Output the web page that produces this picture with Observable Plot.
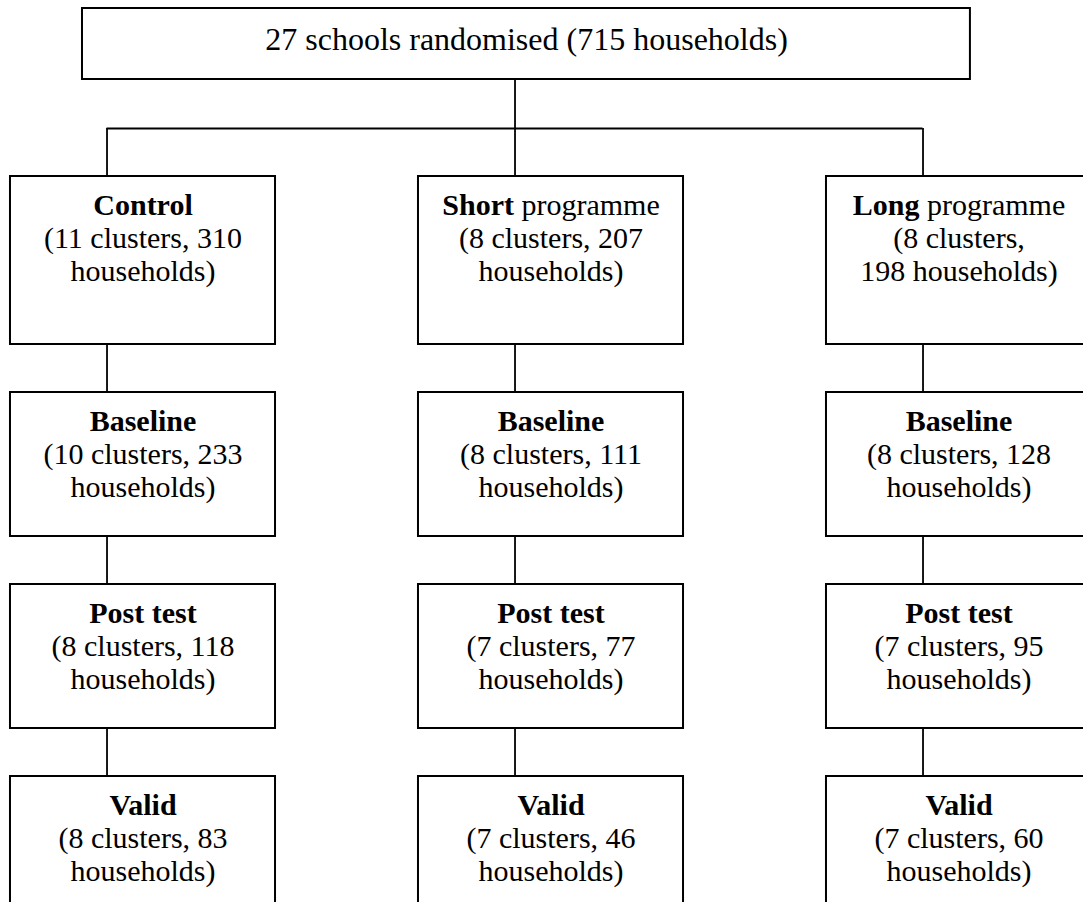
<!DOCTYPE html>
<html>
<head>
<meta charset="utf-8">
<script src="https://cdn.jsdelivr.net/npm/d3@7"></script>
<script src="https://cdn.jsdelivr.net/npm/@observablehq/plot@0.6"></script>
<style>
  html, body { margin: 0; padding: 0; background: #fff; overflow: hidden; }
  #chart svg { display: block; overflow: hidden; }
  #chart text { white-space: pre; }
</style>
</head>
<body>
<div id="chart"></div>
<script>
// ---------------- DATA ----------------
const topLabel = "27 schools randomised (715 households)";
const arms = ["Control", "Short", "Long"];
const armSuffix = ["", " programme", " programme"];
const stages = ["Baseline", "Post test", "Valid"];
const allocClusters = [11, 8, 8];
const allocHouseholds = [310, 207, 198];
const baselineClusters = [10, 8, 8];
const baselineHouseholds = [233, 111, 128];
const postClusters = [8, 7, 7];
const postHouseholds = [118, 77, 95];
const validClusters = [8, 7, 7];
const validHouseholds = [83, 46, 60];

// ---------------- LAYOUT (x in column units, y in layout units) ----------------
const colHalf = 0.3248;        // half box width in column units
const stemOffset = -0.0882;    // connector position relative to column centre
const topBox = {x1: -0.1483, x2: 2.028, y1: 8, y2: 79, cx: 0.94};
const barY = 128;
const rowTop = [176, 392, 584, 776];
const rowBottom = [344, 536, 728, 920];
const fs = 30, lh = 1.117, topFs = 32;

// ---------------- BUILD TABLES ----------------
const clusterRows = [allocClusters, baselineClusters, postClusters, validClusters];
const householdRows = [allocHouseholds, baselineHouseholds, postHouseholds, validHouseholds];
const boxes = [];
for (let r = 0; r < 4; r++) {
  for (let c = 0; c < 3; c++) {
    const bold = r === 0 ? arms[c] : stages[r - 1];
    const rest = r === 0 ? armSuffix[c] : "";
    const cl = clusterRows[r][c], hh = householdRows[r][c];
    // the "Long programme" allocation box wraps after the comma in the original
    const detail = (r === 0 && c === 2)
      ? `(${cl} clusters,\n${hh} households)`
      : `(${cl} clusters, ${hh}\nhouseholds)`;
    boxes.push({col: c, row: r, bold, rest, heading: bold + rest, detail,
      x1: c - colHalf, x2: c + colHalf, y1: rowTop[r], y2: rowBottom[r]});
  }
}
// vertical connectors between stacked boxes
const stems = [];
for (let c = 0; c < 3; c++) {
  for (let r = 0; r < 3; r++) stems.push({x: c + stemOffset, y1: rowBottom[r], y2: rowTop[r + 1]});
  stems.push({x: c + stemOffset, y1: barY, y2: rowTop[0]});
}
stems.push({x: 1 + stemOffset, y1: topBox.y2, y2: barY});

const plot = Plot.plot({
  width: 1083,
  height: 902,
  margin: 0,
  x: {domain: [0, 2], range: [142.5, 958.5], axis: null},
  y: {domain: [0, 902], range: [0, 902], axis: null},
  style: {fontFamily: "'Liberation Serif', 'Times New Roman', serif", color: "#000", background: "#fff"},
  marks: [
    Plot.ruleX(stems, {x: "x", y1: "y1", y2: "y2", stroke: "#000", strokeWidth: 1.8}),
    Plot.ruleY([barY], {x1: stemOffset, x2: 2 + stemOffset, stroke: "#000", strokeWidth: 1.8}),
    Plot.rect([topBox], {x1: "x1", x2: "x2", y1: "y1", y2: "y2", fill: "#fff", stroke: "#000", strokeWidth: 2}),
    Plot.text([topLabel], {x: topBox.cx, y: 49 - 0.71 * topFs, text: d => d, fontSize: topFs,
      textAnchor: "middle", lineAnchor: "top", fill: "#000"}),
    Plot.rect(boxes, {x1: "x1", x2: "x2", y1: "y1", y2: "y2", fill: "#fff", stroke: "#000", strokeWidth: 2}),
    Plot.text(boxes, {x: "col", y: d => d.y1 + 38 - 0.71 * fs, text: "heading", fontSize: fs,
      textAnchor: "middle", lineAnchor: "top", fill: "#000"}),
    Plot.text(boxes, {x: "col", y: d => d.y1 + 35 + fs * lh - 0.71 * fs, text: "detail", fontSize: fs,
      lineHeight: lh, textAnchor: "middle", lineAnchor: "top", fill: "#000"})
  ]
});

// make the leading word of each heading bold
const headingMap = new Map(boxes.map(b => [b.heading, b]));
plot.querySelectorAll("text").forEach(t => {
  if (t.querySelector("tspan")) return;
  const b = headingMap.get(t.textContent);
  if (!b) return;
  while (t.firstChild) t.removeChild(t.firstChild);
  const ts = document.createElementNS("http://www.w3.org/2000/svg", "tspan");
  ts.setAttribute("font-weight", "bold");
  ts.textContent = b.bold;
  t.appendChild(ts);
  if (b.rest) t.appendChild(document.createTextNode(b.rest));
});

document.getElementById("chart").appendChild(plot);
</script>
</body>
</html>
